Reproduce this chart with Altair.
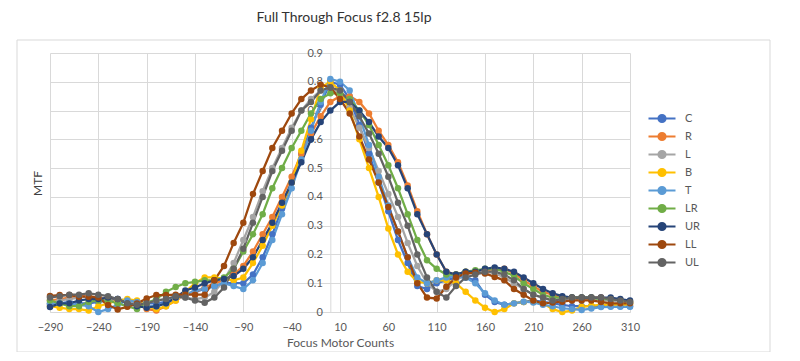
import altair as alt
import pandas as pd

# ---------------- data ----------------
x_counts = list(range(-290, 311, 10))
series_names = ["C", "R", "L", "B", "T", "LR", "UR", "LL", "UL"]
series_colors = ["#4472C4", "#ED7D31", "#A5A5A5", "#FFC000", "#5B9BD5",
                 "#70AD47", "#264478", "#9E480E", "#636363"]
x_tick_values = [-290, -240, -190, -140, -90, -40, 10, 60, 110, 160, 210, 260, 310]
y_tick_values = [0, 0.1, 0.2, 0.3, 0.4, 0.5, 0.6, 0.7, 0.8, 0.9]

C = [0.025, 0.03, 0.035, 0.03, 0.03, 0.035, 0.04, 0.045, 0.04, 0.035, 0.03, 0.03, 0.035, 0.05, 0.06, 0.07,
     0.08, 0.09, 0.10, 0.10, 0.10, 0.13, 0.19, 0.27, 0.36, 0.45, 0.55, 0.64, 0.72, 0.80, 0.79,
     0.74, 0.65, 0.55, 0.45, 0.35, 0.25, 0.17, 0.09, 0.08, 0.10, 0.11, 0.12, 0.12, 0.11, 0.06,
     0.035, 0.025, 0.03, 0.035, 0.04, 0.035, 0.03, 0.025, 0.02, 0.02, 0.02, 0.02, 0.02, 0.02, 0.02]
R = [0.04, 0.045, 0.05, 0.055, 0.055, 0.05, 0.045, 0.04, 0.035, 0.03, 0.01, 0.005, 0.02, 0.04, 0.06, 0.07,
     0.085, 0.10, 0.11, 0.13, 0.16, 0.21, 0.27, 0.33, 0.40, 0.47, 0.55, 0.62, 0.68, 0.73, 0.75,
     0.75, 0.73, 0.69, 0.63, 0.58, 0.52, 0.44, 0.35, 0.27, 0.20, 0.14, 0.13, 0.14, 0.14, 0.145,
     0.15, 0.15, 0.135, 0.11, 0.09, 0.07, 0.06, 0.05, 0.05, 0.05, 0.05, 0.05, 0.045, 0.04, 0.035]
L = [0.03, 0.04, 0.045, 0.05, 0.055, 0.05, 0.04, 0.04, 0.035, 0.03, 0.035, 0.04, 0.045, 0.05, 0.05, 0.045,
     0.05, 0.07, 0.11, 0.17, 0.25, 0.33, 0.42, 0.50, 0.57, 0.64, 0.70, 0.74, 0.77, 0.78, 0.76,
     0.71, 0.64, 0.57, 0.49, 0.41, 0.33, 0.24, 0.16, 0.10, 0.07, 0.08, 0.11, 0.13, 0.14, 0.14,
     0.135, 0.12, 0.10, 0.08, 0.06, 0.05, 0.04, 0.04, 0.045, 0.045, 0.045, 0.04, 0.04, 0.035, 0.03]
B = [0.02, 0.015, 0.01, 0.01, 0.005, 0.02, 0.03, 0.04, 0.045, 0.04, 0.02, 0.01, 0.02, 0.04, 0.07, 0.10,
     0.12, 0.12, 0.115, 0.11, 0.12, 0.17, 0.23, 0.30, 0.37, 0.45, 0.56, 0.67, 0.78, 0.80, 0.77,
     0.70, 0.60, 0.50, 0.40, 0.29, 0.20, 0.14, 0.105, 0.10, 0.11, 0.11, 0.10, 0.07, 0.04, 0.015,
     0.0, 0.01, 0.03, 0.035, 0.035, 0.03, 0.01, 0.0, 0.005, 0.018, 0.022, 0.025, 0.025, 0.025, 0.025]
T = [0.03, 0.03, 0.03, 0.025, 0.02, 0.0, 0.01, 0.025, 0.04, 0.035, 0.02, 0.02, 0.03, 0.05, 0.06, 0.075,
     0.08, 0.09, 0.10, 0.09, 0.08, 0.11, 0.17, 0.25, 0.34, 0.43, 0.53, 0.63, 0.73, 0.81, 0.80,
     0.77, 0.68, 0.58, 0.47, 0.37, 0.28, 0.19, 0.12, 0.10, 0.11, 0.12, 0.125, 0.12, 0.10, 0.065,
     0.04, 0.025, 0.03, 0.036, 0.033, 0.025, 0.02, 0.013, 0.01, 0.007, 0.012, 0.017, 0.018, 0.018, 0.018]
LR = [0.04, 0.03, 0.02, 0.02, 0.035, 0.04, 0.04, 0.03, 0.02, 0.01, 0.03, 0.045, 0.07, 0.087, 0.10, 0.105,
      0.11, 0.11, 0.12, 0.15, 0.21, 0.27, 0.34, 0.43, 0.50, 0.57, 0.63, 0.69, 0.74, 0.76, 0.76,
      0.74, 0.70, 0.65, 0.58, 0.51, 0.43, 0.34, 0.25, 0.18, 0.15, 0.13, 0.13, 0.14, 0.145, 0.15,
      0.15, 0.14, 0.125, 0.10, 0.08, 0.06, 0.05, 0.05, 0.05, 0.05, 0.05, 0.045, 0.045, 0.04, 0.035]
UR = [0.017, 0.03, 0.03, 0.04, 0.045, 0.045, 0.05, 0.045, 0.03, 0.02, 0.015, 0.02, 0.03, 0.05, 0.075, 0.085,
      0.10, 0.11, 0.115, 0.125, 0.15, 0.19, 0.25, 0.31, 0.38, 0.45, 0.52, 0.60, 0.66, 0.70, 0.73,
      0.73, 0.70, 0.66, 0.61, 0.57, 0.51, 0.43, 0.34, 0.27, 0.20, 0.14, 0.13, 0.14, 0.14, 0.15,
      0.155, 0.15, 0.14, 0.12, 0.10, 0.08, 0.065, 0.055, 0.05, 0.05, 0.05, 0.05, 0.05, 0.045, 0.04]
LL = [0.056, 0.059, 0.059, 0.053, 0.053, 0.05, 0.024, 0.009, 0.018, 0.03, 0.047, 0.059, 0.059, 0.06, 0.06, 0.06,
      0.06, 0.11, 0.16, 0.24, 0.31, 0.41, 0.49, 0.57, 0.63, 0.69, 0.74, 0.77, 0.79, 0.78, 0.74,
      0.69, 0.61, 0.53, 0.45, 0.365, 0.28, 0.19, 0.10, 0.05, 0.047, 0.088, 0.12, 0.134, 0.136, 0.134,
      0.122, 0.11, 0.08, 0.06, 0.04, 0.03, 0.033, 0.036, 0.04, 0.04, 0.04, 0.035, 0.03, 0.03, 0.03]
UL = [0.05, 0.055, 0.06, 0.06, 0.065, 0.06, 0.055, 0.045, 0.03, 0.025, 0.03, 0.04, 0.045, 0.055, 0.05, 0.04,
      0.032, 0.05, 0.085, 0.15, 0.22, 0.31, 0.40, 0.49, 0.56, 0.63, 0.70, 0.73, 0.77, 0.78, 0.77,
      0.73, 0.68, 0.62, 0.55, 0.47, 0.38, 0.30, 0.20, 0.12, 0.07, 0.05, 0.09, 0.12, 0.13, 0.14,
      0.14, 0.13, 0.11, 0.08, 0.06, 0.05, 0.04, 0.045, 0.05, 0.05, 0.05, 0.05, 0.045, 0.04, 0.035]

all_series = [C, R, L, B, T, LR, UR, LL, UL]
for s in all_series:
    assert len(s) == len(x_counts), len(s)

rows = []
for k, (name, vals) in enumerate(zip(series_names, all_series)):
    for x, v in zip(x_counts, vals):
        rows.append({"x": x, "series": name, "mtf": v, "k": k})
df = pd.DataFrame(rows)

FONT = "Lato"
GRID = "#d9d9d9"
TXT = "#595959"

PLOT_W = 580
PLOT_H = 259
# pixel position of x = 0 inside the plot (Excel-style crossing y axis)
y_axis_shift = PLOT_W * (0 - (-290)) / (310 - (-290))

legend_path = "M-3,0L3,0M0.8,0A0.8,0.8,0,1,1,-0.8,0A0.8,0.8,0,1,1,0.8,0Z"

# light chart-area frame (decoration, like the Excel chart border)
frame = alt.Chart(pd.DataFrame({"f": [0]})).mark_rect(
    fill=None, stroke=GRID, strokeWidth=1
).encode(
    x=alt.value(-33), x2=alt.value(720), y=alt.value(-13), y2=alt.value(299)
)

lines = alt.Chart(df).mark_line(
    strokeWidth=2.25,
    point=alt.OverlayMarkDef(filled=True, size=42, opacity=1),
).encode(
    x=alt.X("x:Q",
            scale=alt.Scale(domain=[-290, 310], nice=False, zero=False),
            axis=alt.Axis(values=x_tick_values, title="Focus Motor Counts",
                          grid=True, gridColor=GRID, domainColor=GRID,
                          ticks=False, tickSize=0, labelPadding=9, labelFlush=False,
                          labelOverlap=False,
                          labelFont=FONT, labelFontSize=11, labelColor=TXT,
                          titleFont=FONT, titleFontSize=12, titleColor=TXT,
                          titleFontWeight="normal", titleY=30, titleBaseline="middle")),
    y=alt.Y("mtf:Q",
            scale=alt.Scale(domain=[0, 0.9], nice=False),
            axis=alt.Axis(values=y_tick_values, format=".1~f", offset=-y_axis_shift,
                          grid=True, gridColor=GRID, domainColor=GRID,
                          ticks=False, tickSize=0, labelPadding=8, labelFlush=False,
                          labelFont=FONT, labelFontSize=11, labelColor=TXT,
                          title="MTF", titleFont=FONT, titleFontSize=12, titleColor="#404040",
                          titleFontWeight="normal", titleX=-(y_axis_shift + 13), titleY=130,
                          titleAlign="center", titleBaseline="middle")),
    color=alt.Color("series:N",
                    scale=alt.Scale(domain=series_names, range=series_colors),
                    sort=series_names,
                    legend=alt.Legend(orient="none", legendX=606.5, legendY=60, title=None,
                                      symbolType=legend_path, symbolSize=81,
                                      symbolStrokeWidth=2, labelOffset=17.5,
                                      labelFont=FONT, labelFontSize=11, labelColor=TXT,
                                      padding=0, rowPadding=1)),
    detail="k:O",
)

chart = alt.layer(frame, lines).properties(
    width=PLOT_W,
    height=PLOT_H,
    title=alt.TitleParams("Full Through Focus f2.8 15lp", font=FONT, fontSize=14,
                          fontWeight="normal", color="#333333", anchor="middle",
                          offset=15, dx=4),
    autosize=alt.AutoSizeParams(type="none"),
    padding={"left": 42, "top": 45, "right": 150, "bottom": 40},
).configure_view(stroke=None)

chart.save("out.html", embed_options={"renderer": "svg", "actions": False})
